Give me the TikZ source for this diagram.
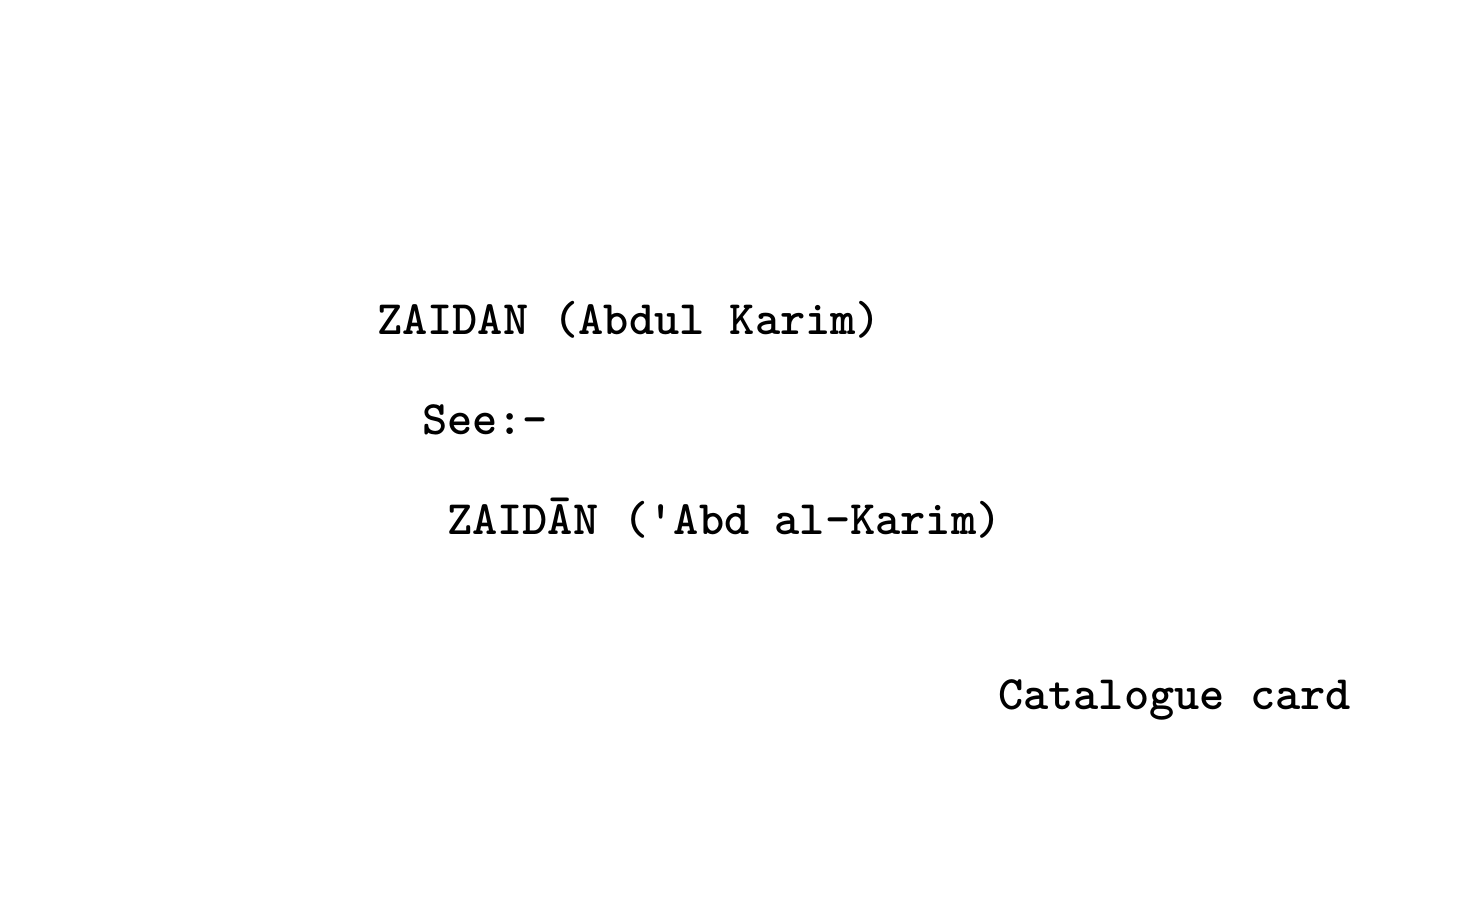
\documentclass[tikz,border=0pt]{standalone}
\begin{document}
\begin{tikzpicture}[x=1pt,y=-1pt,
  typed/.style={anchor=base west,inner sep=0pt,outer sep=0pt,
    font=\fontsize{48}{48}\selectfont\ttfamily\bfseries}]
\useasboundingbox (0,0) rectangle (1477,909);
\fill[white] (0,0) rectangle (1477,909);
\node[typed] (head) at (377,334) {ZAIDAN (Abdul Karim)};
\node[typed] (see) at (422,434) {See:-};
\node[typed] (ref) at (447,534) {ZAID\=AN (\textquotesingle Abd al-Karim)};
\node[typed] (cap) at (998,709) {Catalogue card};
\end{tikzpicture}
\end{document}
